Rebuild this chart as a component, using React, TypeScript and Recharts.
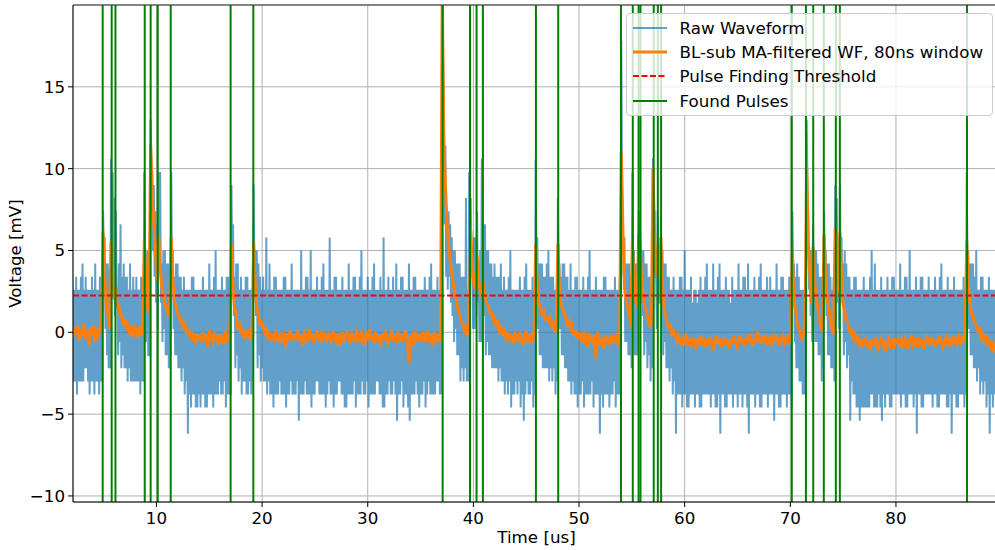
import React from 'react';
import { LineChart, Line, XAxis, YAxis, CartesianGrid, ReferenceLine } from 'recharts';

// raw samples every 0.075 us, filtered samples every 0.15 us, both from 2.1 us
const START_US = 2.1;
const RAW_STEP_US = 0.075;

// raw digitiser trace [mV], rows of 40 samples (3 us each)
const RAW_MV = [
  2.6, -3, 2.6, -3, 3.4, -3.8, 2.6, -3, 2.6, -3, 3.4, -3, 4.2, -3, 2.6, -2.2, 3.4, -2.2, 2.6, -3, 2.6, -3.8, 2.6, -3, 3.4, -3, 2.6, -3.8, 4.2, -3, 2.6, -3, 2.6, -3.8, 3.4, -3, 3.4, -3, 7.4, 5, // 2.1
  5.8, 0.2, 4.2, -1.4, 4.2, -2.2, 3.4, -2.2, 10.6, 5.8, 9.8, 3.4, 8.2, 1, 7.4, 2.6, 2.6, -1.4, 4.2, -0.6, 6.6, -2.2, 3.4, -1.4, 4.2, -2.2, 3.4, -2.2, 3.4, -3, 2.6, -2.2, 4.2, -3, 2.6, -3, 3.4, -3, 2.6, -3, // 5.1
  3.4, -3, 2.6, -3, 2.6, -3.8, 3.4, -3, 3.4, -3, 9.8, 5, -0.6, 4.2, 5, -1.4, -1.4, 5, 13, 9.8, 9.8, 5, 9, 3.4, 7.4, 1.8, 6.6, 0.2, 9.8, 4.2, 9.8, 1.8, 4.2, -0.6, 5, 0.2, 5, -1.4, 4.2, -1.4, // 8.1
  4.2, -2.2, 3.4, -1.4, 9.8, 3.4, 5, 0.2, 3.4, -1.4, 4.2, -1.4, 4.2, -2.2, 3.4, -2.2, 3.4, -3, 2.6, -2.2, 3.4, -3.8, 2.6, -3, 2.6, -6.2, 2.6, -3.8, 2.6, -4.6, 3.4, -3.8, 3.4, -3.8, 2.6, -4.6, 2.6, -4.6, 2.6, -3.8, // 11.1
  2.6, -4.6, 2.6, -3.8, 3.4, -3.8, 2.6, -4.6, 2.6, -4.6, 2.6, -3.8, 4.2, -3.8, 2.6, -3.8, 2.6, -4.6, 3.4, -3.8, 5, -3.8, 2.6, -3.8, 2.6, -3, 2.6, -3.8, 3.4, -3.8, 2.6, -3, 2.6, -4.6, 3.4, -3.8, 3.4, -3.8, 2.6, -3.8, // 14.1
  9, 3.4, 6.6, 1, 3.4, -2.2, 4.2, -1.4, 4.2, -3, 2.6, -2.2, 3.4, -3.8, 2.6, -3, 2.6, -3, 3.4, -3.8, 3.4, -3.8, 2.6, -3, 2.6, -3.8, 2.6, -3, 9, 3.4, 5, 1, 5, -2.2, 4.2, -1.4, 3.4, -3, 2.6, -2.2, // 17.1
  3.4, -3, 2.6, -3, 5.8, -3.8, 2.6, -3, 4.2, -3.8, 2.6, -3.8, 2.6, -4.6, 3.4, -3.8, 3.4, -3.8, 2.6, -3.8, 2.6, -3, 2.6, -3.8, 2.6, -3.8, 3.4, -3.8, 3.4, -4.6, 2.6, -3.8, 2.6, -3.8, 2.6, -3, 4.2, -3.8, 2.6, -3.8, // 20.1
  2.6, -3.8, 2.6, -3, 2.6, -5.4, 2.6, -3.8, 5, -3.8, 2.6, -3.8, 2.6, -3, 3.4, -3.8, 3.4, -3.8, 2.6, -3.8, 5, -4.6, 2.6, -3.8, 2.6, -3.8, 2.6, -3, 3.4, -3, 2.6, -3.8, 2.6, -3.8, 3.4, -3.8, 4.2, -3.8, 2.6, -4.6, // 23.1
  2.6, -3.8, 2.6, -3, 5.8, -3.8, 2.6, -3.8, 2.6, -4.6, 3.4, -3.8, 3.4, -3.8, 2.6, -3, 2.6, -3, 2.6, -3.8, 3.4, -3.8, 2.6, -4.6, 2.6, -4.6, 2.6, -3.8, 4.2, -3.8, 2.6, -3.8, 2.6, -3.8, 3.4, -3, 3.4, -4.6, 2.6, -3.8, // 26.1
  2.6, -3.8, 3.4, -3.8, 5, -3, 2.6, -3.8, 2.6, -3.8, 2.6, -3, 3.4, -4.6, 2.6, -3.8, 2.6, -3.8, 3.4, -3.8, 4.2, -3.8, 2.6, -3, 2.6, -3, 2.6, -3.8, 3.4, -3.8, 2.6, -4.6, 5.8, -4.6, 2.6, -3.8, 2.6, -3.8, 3.4, -3, // 29.1
  2.6, -3.8, 2.6, -3.8, 3.4, -3, 2.6, -3.8, 4.2, -5.4, 2.6, -3.8, 2.6, -3.8, 3.4, -3, 3.4, -4.6, 2.6, -3.8, 2.6, -3.8, 2.6, -4.6, 4.2, -5.4, 2.6, -3.8, 2.6, -3.8, 3.4, -3.8, 3.4, -3, 2.6, -3.8, 2.6, -4.6, 2.6, -3.8, // 32.1
  2.6, -3.8, 2.6, -3, 3.4, -4.6, 2.6, -3.8, 2.6, -3, 3.4, -3.8, 4.2, -3.8, 2.6, -3.8, 2.6, -3.8, 2.6, -3, 3.4, -3, 2.6, -3.8, 2.6, -3.8, 21.5, 17, 13.8, 6.6, 11.4, 3.4, 7.4, 2.6, 7.4, 3.4, 6.6, 1.8, 5.8, 1, // 35.1
  5, -0.6, 5, 0.2, 4.2, -1.4, 4.2, -1.4, 4.2, -3, 3.4, -2.2, 3.4, -3, 3.4, -2.2, 8.2, -3, 2.6, -3, 9.8, 4.2, 8.2, 3.4, 5, 0.2, 5.8, 0.2, 5.8, 1, 7.4, 1.8, 4.2, -0.6, 5, -0.6, 10.6, 2.6, 6.6, 1, // 38.1
  6.6, -1.4, 5, -0.6, 5, -1.4, 4.2, -1.4, 4.2, -2.2, 3.4, -2.2, 4.2, -2.2, 3.4, -2.2, 3.4, -3, 3.4, -2.2, 4.2, -3, 2.6, -3, 3.4, -3.8, 2.6, -3, 2.6, -3.8, 3.4, -3, 5, -4.6, 2.6, -3.8, 2.6, -3.8, 2.6, -3, // 41.1
  2.6, -3.8, 2.6, -3, 3.4, -4.6, 2.6, -3.8, 2.6, -5.4, 3.4, -3.8, 4.2, -3, 2.6, -3.8, 2.6, -3.8, 2.6, -3, 3.4, -4.6, 2.6, -3.8, 10.6, 3.4, 5.8, 0.2, 4.2, -1.4, 4.2, -1.4, 4.2, -2.2, 3.4, -2.2, 3.4, -2.2, 4.2, -2.2, // 44.1
  5, -3, 3.4, -2.2, 3.4, -3, 3.4, -2.2, 2.6, -3.8, 2.6, -3, 8.2, 2.6, 4.2, 0.2, 3.4, -1.4, 4.2, -1.4, 4.2, -2.2, 3.4, -2.2, 3.4, -3, 2.6, -3, 4.2, -3.8, 2.6, -3, 2.6, -3.8, 3.4, -3.8, 3.4, -4.6, 2.6, -3.8, // 47.1
  2.6, -3.8, 2.6, -3, 3.4, -4.6, 2.6, -3.8, 2.6, -3.8, 3.4, -3.8, 5, -3.8, 2.6, -3, 2.6, -4.6, 2.6, -3.8, 3.4, -3.8, 2.6, -3.8, 2.6, -6.2, 2.6, -3.8, 2.6, -4.6, 3.4, -3.8, 3.4, -3.8, 2.6, -3.8, 2.6, -4.6, 2.6, -3.8, // 50.1
  2.6, -3.8, 2.6, -3, 3.4, -4.6, 2.6, -3.8, 2.6, -3.8, 3.4, -3.8, 17.8, 9, 6.6, 3.4, 5.8, -0.6, 4.2, -0.6, 4.2, -1.4, 4.2, -1.4, 3.4, -2.2, 9.8, 4.2, 5, -1.4, 4.2, -1.4, 4.2, -1.4, 7.4, 3.4, 5.8, 1.8, 5, 1, // 53.1
  5, -1.4, 4.2, -0.6, 4.2, -2.2, 3.4, -1.4, 3.4, -3, 2.6, -2.2, 10.6, 5, 7.4, 3.4, 3.4, 0.2, 7.4, 1.8, 1.8, 4.2, 5.8, 1.8, 5, -1.4, 4.2, -0.6, 4.2, -2.2, 3.4, -2.2, 3.4, -3, 2.6, -2.2, 2.6, -3.8, 3.4, -3, // 56.1
  2.6, -6.2, 2.6, -3.8, 2.6, -3.8, 3.4, -3.8, 3.4, -4.6, 2.6, -3.8, 5, -3.8, 2.6, -4.6, 2.6, -4.6, 2.6, -3.8, 3.4, -3.8, 1.8, -3.8, 2.6, -4.6, 2.6, -3.8, 1.8, -3.8, 2.6, -4.6, 3.4, -4.6, 2.6, -3.8, 2.6, -3.8, 3.4, -3.8, // 59.1
  4.2, -3.8, 2.6, -3.8, 2.6, -4.6, 2.6, -3.8, 4.2, -3.8, 2.6, -4.6, 2.6, -4.6, 3.4, -3.8, 4.2, -6.2, 2.6, -3.8, 2.6, -3.8, 2.6, -4.6, 3.4, -4.6, 2.6, -3.8, 2.6, -3.8, 1.8, -3.8, 3.4, -4.6, 2.6, -3.8, 2.6, -3.8, 2.6, -4.6, // 62.1
  4.2, -3.8, 2.6, -3.8, 2.6, -4.6, 3.4, -3.8, 3.4, -3.8, 2.6, -4.6, 4.2, -6.2, 2.6, -3.8, 2.6, -3.8, 2.6, -3.8, 3.4, -4.6, 2.6, -3.8, 2.6, -3.8, 3.4, -4.6, 4.2, -4.6, 2.6, -3.8, 2.6, -3.8, 2.6, -3.8, 3.4, -4.6, 2.6, -3.8, // 65.1
  3.4, -3.8, 2.6, -3.8, 2.6, -5.4, 2.6, -3.8, 4.2, -3.8, 2.6, -4.6, 2.6, -4.6, 3.4, -3.8, 3.4, -3.8, 2.6, -3.8, 2.6, -4.6, 2.6, -3.8, 3.4, -3.8, 2.6, -4.6, 7.4, 2.6, 4.2, -0.6, 3.4, -2.2, 4.2, -2.2, 3.4, -3, 2.6, -3, // 68.1
  2.6, -3.8, 2.6, -3.8, 3.4, -3, 13, 9, 6.6, 2.6, 5, 1, 5, -0.6, 6.6, 2.6, 5, -0.6, 5, -0.6, 4.2, -1.4, 3.4, -1.4, 3.4, -3, 2.6, -2.2, 7.4, 3.4, 5, 1, 4.2, -1.4, 4.2, -1.4, 3.4, -2.2, 2.6, -2.2, // 71.1
  3.4, -3, 9, 4.2, 8.2, 1.8, 4.2, 0.2, 9, 3.4, 5.8, 1.8, 4.2, -1.4, 5, -0.6, 4.2, -2.2, 3.4, -1.4, 3.4, -5.4, 2.6, -3, 2.6, -3.8, 3.4, -3.8, 3.4, -4.6, 2.6, -4.6, 2.6, -5.4, 2.6, -4.6, 2.6, -4.6, 3.4, -4.6, // 74.1
  2.6, -4.6, 2.6, -4.6, 2.6, -4.6, 3.4, -3.8, 5, -3.8, 2.6, -4.6, 4.2, -4.6, 2.6, -4.6, 2.6, -3.8, 2.6, -4.6, 3.4, -5.4, 2.6, -3.8, 2.6, -4.6, 2.6, -3.8, 3.4, -3.8, 2.6, -4.6, 2.6, -4.6, 3.4, -3.8, 3.4, -3.8, 2.6, -3.8, // 77.1
  2.6, -3.8, 2.6, -3.8, 4.2, -4.6, 2.6, -3.8, 2.6, -3.8, 3.4, -4.6, 3.4, -4.6, 2.6, -3.8, 5, -3.8, 2.6, -3.8, 2.6, -4.6, 2.6, -3.8, 3.4, -6.2, 2.6, -3.8, 2.6, -3.8, 3.4, -4.6, 3.4, -4.6, 2.6, -3.8, 2.6, -3.8, 2.6, -3.8, // 80.1
  3.4, -3.8, 2.6, -3.8, 2.6, -4.6, 2.6, -3.8, 3.4, -3.8, 2.6, -4.6, 2.6, -4.6, 3.4, -3.8, 4.2, -3.8, 2.6, -3.8, 2.6, -3.8, 2.6, -4.6, 3.4, -4.6, 2.6, -3.8, 2.6, -6.2, 2.6, -3.8, 3.4, -3.8, 2.6, -4.6, 2.6, -4.6, 2.6, -3.8, // 83.1
  2.6, -3.8, 2.6, -3.8, 3.4, -4.6, 2.6, -3.8, 9.8, 3.4, 5, 0.2, 4.2, -1.4, 4.2, -1.4, 4.2, -2.2, 3.4, -2.2, 5, -3, 2.6, -2.2, 2.6, -3.8, 3.4, -3, 3.4, -3.8, 2.6, -3, 2.6, -4.6, 2.6, -3.8, 3.4, -6.2, 2.6, -3.8, // 86.1
  2.6, -4.6, 2.6, -3.8, 2.6, -3.8, 3.4, -3.8, 3.4, -4.6, 2.6, // 89.1
];

// baseline-subtracted moving-average trace [mV], every other raw sample time
const FILTERED_MV = [
  -0.3, 0.3, -0.1, 0.4, -0.5, 0.2, -0.2, 0.5, -0.4, 0.1, -0.8, 0.3, -0.2, 0.4, -0.6, 0.2, -0.3, 0.3, 0.1, 6.1,
  3.5, 1.5, 1.1, 0.2, 5.5, 3.6, 2.0, 2.7, 1.6, 1.6, 0.9, 1.2, 0.4, 0.8, 0.1, 0.6, -0.2, 0.4, -0.3, 0.3,
  0.2, -0.3, 0.4, -0.2, 0.1, 5.6, 3.0, 1.5, 1.2, 11.5, 8.5, 6.6, 5.1, 3.1, 6.0, 4.0, 2.7, 2.3, 1.7, 1.5,
  1.1, 1.3, 5.8, 3.2, 1.9, 1.6, 1.1, 1.0, 0.6, 0.7, 0.3, 0.4, -0.1, 0.2, -0.4, 0.0, -0.6, -0.1, -0.5, -0.2,
  -0.3, -0.6, 0.0, -0.5, -0.2, -0.9, 0.1, -0.4, -0.6, 0.0, -0.5, -0.2, -0.8, -0.1, -0.4, -0.7, 0.1, -0.5, -0.3, -0.2,
  5.4, 2.6, 1.5, 1.0, 0.3, 0.5, -0.1, 0.3, -0.4, 0.1, -0.3, 0.2, -0.5, 0.0, 5.5, 2.8, 1.5, 1.1, 0.5, 0.6,
  0.3, 0.0, 0.2, -0.4, 0.0, -0.5, -0.1, -0.6, 0.1, -0.3, -0.7, 0.0, -0.4, -0.2, -0.9, -0.1, -0.5, 0.1, -0.4, -0.3,
  -0.2, -0.5, 0.1, -0.4, -0.3, -0.8, 0.0, -0.2, -0.6, 0.2, -0.4, -0.1, -0.7, -0.3, 0.1, -0.5, -0.2, -0.6, 0.0, -0.4,
  -0.5, 0.0, -0.3, -0.7, 0.1, -0.2, -0.5, -0.1, -0.8, -0.3, 0.0, -0.6, -0.2, 0.1, -0.4, -0.7, -0.1, -0.3, -0.6, 0.0,
  -0.2, -0.6, 0.1, -0.4, -0.8, -0.1, -0.3, 0.2, -0.5, -0.2, -0.7, 0.0, -0.4, -0.3, -0.9, -0.1, -0.5, 0.1, -0.3, -0.6,
  -0.3, 0.1, -0.5, -0.2, -0.7, 0.0, -0.4, -0.1, -0.6, -0.3, 0.1, -0.5, -1.9, -0.4, -0.2, -0.8, 0.0, -0.3, -0.6, -0.1,
  -0.4, 0.0, -0.6, -0.2, 0.1, -0.5, -0.3, -0.8, 0.0, -0.4, -0.1, -0.6, -0.2, 21.0, 12.0, 9.0, 6.8, 5.3, 4.4, 3.6,
  3.0, 2.3, 1.9, 1.3, 1.1, 0.6, 0.5, 0.1, 0.3, -0.1, 0.2, 6.2, 4.0, 2.9, 2.6, 4.7, 3.2, 2.5, 2.2, 3.1,
  2.2, 1.8, 1.6, 1.2, 1.2, 0.8, 0.9, 0.4, 0.6, 0.1, 0.3, -0.2, 0.1, -0.3, 0.0, -0.6, -0.1, -0.4, -0.7, -0.1,
  -0.2, -0.6, 0.0, -0.4, -0.8, -0.2, 0.1, -0.5, -0.3, -0.7, 0.0, -0.4, 5.4, 2.8, 1.8, 1.5, 1.1, 1.3, 0.8, 0.9,
  0.7, 0.9, 0.4, 0.6, 0.0, 0.3, 5.4, 2.6, 1.7, 1.5, 1.1, 0.9, 0.5, 0.7, 0.2, 0.4, -0.2, 0.1, -0.4, -0.1,
  -0.2, -0.6, 0.0, -0.5, -0.3, -0.9, -0.1, -0.4, -0.7, -0.2, -1.6, 0.0, -0.8, -0.3, -0.6, -1.0, -0.2, -0.5, -0.8, -0.3,
  -0.5, -0.2, -0.7, -0.3, -0.6, -0.2, 11.0, 6.4, 2.7, 2.0, 1.5, 1.2, 0.3, 5.6, 2.9, 2.0, 1.6, 6.0, 5.0, 3.0,
  2.1, 1.5, 1.2, 0.8, 0.4, 0.5, 10.0, 6.0, 3.5, 5.0, 3.2, 5.8, 3.0, 1.4, 1.0, 0.6, 0.3, 0.4, -0.1, 0.1,
  -0.1, -0.5, -0.2, -0.6, -0.3, -0.8, -0.4, -0.1, -0.7, -0.5, -0.9, -0.3, -0.6, -1.0, -0.4, -0.7, -0.2, -0.8, -0.5, -0.9,
  -0.4, -0.8, -0.3, -0.6, -1.1, -0.5, -0.2, -0.7, -0.4, -0.9, -0.6, -0.3, -0.8, -0.5, -1.0, -0.4, -0.7, -0.2, -0.6, -0.9,
  -0.5, -0.2, -0.7, -0.4, -0.9, -0.3, -0.6, -0.1, -0.5, -0.8, -0.3, -0.6, 0.0, -0.4, -0.7, -0.2, -0.5, -0.3, -0.8, -0.4,
  -0.3, -0.7, -0.4, -0.1, -0.6, -0.3, -0.8, -0.4, -0.2, -0.7, -0.5, -0.3, -0.6, -0.2, 4.9, 2.0, 1.3, 0.6, 0.3, -0.1,
  -0.4, -0.1, 0.5, 10.1, 5.5, 3.6, 1.8, 5.2, 3.2, 2.1, 1.5, 0.8, 0.3, 0.0, 6.0, 3.4, 2.0, 1.5, 0.6, 0.2,
  -0.1, 6.4, 3.8, 2.4, 6.1, 3.6, 1.7, 1.3, 0.7, 0.6, 0.1, 0.2, -0.3, -0.1, -0.6, -0.3, -0.7, -0.4, -0.9, -0.5,
  -0.4, -0.9, -0.6, -1.1, -0.5, -0.8, -0.3, -0.7, -1.0, -0.6, -0.4, -0.9, -0.5, -1.2, -0.7, -0.4, -0.8, -0.6, -1.0, -0.5,
  -0.6, -0.3, -0.9, -0.5, -0.8, -0.4, -0.7, -1.0, -0.5, -0.2, -0.8, -0.6, -0.3, -0.9, -0.5, -0.7, -0.4, -1.0, -0.6, -0.3,
  -0.5, -0.8, -0.3, -0.6, -0.9, -0.4, -0.7, -0.2, -0.6, -0.9, -0.5, -0.3, -0.8, -0.5, -0.7, -0.2, -0.6, -0.4, -0.7, -0.3,
  -0.6, -0.3, -0.5, -0.2, 5.6, 3.0, 1.8, 1.2, 1.0, 0.6, 0.5, 0.1, 0.2, -0.3, -0.1, -0.5, -0.3, -0.8, -0.5, -0.9,
  -0.7, -1.1, -0.8, -1.2, -0.9, -1.0,
];

// found pulse times [us]
const PULSE_TIMES_US = [
  4.91, 5.76, 6.12, 8.89, 9.45, 10.12, 11.35, 17.02, 19.17,
  37.09, 39.68, 40.3, 40.9, 45.92, 48.03, 53.97, 55.09, 55.64, 55.82,
  57.07, 57.46, 57.77, 70.14, 71.48, 72.17, 73.17, 74.31, 74.69, 86.73,
];

const THRESHOLD_MV = 2.25;

const X_TICKS = [10, 20, 30, 40, 50, 60, 70, 80];
const Y_TICKS = [-10, -5, 0, 5, 10, 15];

const LEGEND_LABELS = [
  'Raw Waveform',
  'BL-sub MA-filtered WF, 80ns window',
  'Pulse Finding Threshold',
  'Found Pulses',
];

const FONT = '"DejaVu Sans", Verdana, sans-serif';
const FONT_SIZE = 16.7;

const chartData = RAW_MV.map((raw, i) => ({
  t: Number((START_US + i * RAW_STEP_US).toFixed(3)),
  raw,
  filtered: i % 2 === 0 ? FILTERED_MV[i / 2] : null,
}));

const fmtY = (v: number) => (v < 0 ? `\u2212${Math.abs(v)}` : `${v}`);

const legendHandles = [
  { stroke: '#1f77b4', opacity: 0.7, width: 2, dash: undefined },
  { stroke: '#ff7f0e', opacity: 1, width: 3, dash: undefined },
  { stroke: '#ff0000', opacity: 1, width: 2, dash: '6 2.5' },
  { stroke: '#008000', opacity: 1, width: 2, dash: undefined },
];

const PulseLegend = () => (
  <div
    style={{
      position: 'absolute',
      left: 625.5,
      top: 12.5,
      width: 367,
      height: 103,
      boxSizing: 'border-box',
      border: '1px solid #cccccc',
      borderRadius: 4,
      background: 'rgba(255,255,255,0.8)',
      fontFamily: FONT,
      fontSize: FONT_SIZE,
      color: '#000',
    }}
  >
    {LEGEND_LABELS.map((label, i) => {
      const h = legendHandles[i];
      const cy = 14 + i * 24.4;
      return (
        <div key={label} style={{ position: 'absolute', left: 0, top: cy - 12, height: 24, width: '100%' }}>
          <svg width={40} height={24} style={{ position: 'absolute', left: 5, top: 0 }}>
            <line
              x1={1}
              x2={35}
              y1={12}
              y2={12}
              stroke={h.stroke}
              strokeOpacity={h.opacity}
              strokeWidth={h.width}
              strokeDasharray={h.dash}
            />
          </svg>
          <span style={{ position: 'absolute', left: 53, top: 0, lineHeight: '24px', whiteSpace: 'nowrap' }}>
            {label}
          </span>
        </div>
      );
    })}
  </div>
);

const App = () => {
  const tickStyle = { fill: '#000', fontSize: FONT_SIZE, fontFamily: FONT };
  return (
    <div
      style={{
        position: 'absolute',
        left: 0,
        top: 0,
        width: 995,
        height: 550,
        overflow: 'hidden',
        background: '#fff',
        fontFamily: FONT,
      }}
    >
      <LineChart
        width={1002}
        height={550}
        data={chartData}
        margin={{ top: 5, right: 2, bottom: 0, left: 0 }}
      >
        <CartesianGrid stroke="#b0b0b0" strokeWidth={1} />
        <XAxis
          dataKey="t"
          type="number"
          domain={[2.1, 89.85]}
          allowDataOverflow
          ticks={X_TICKS}
          interval={0}
          height={48}
          tick={tickStyle}
          tickSize={5}
          tickMargin={5}
          tickLine={{ stroke: '#000' }}
          axisLine={{ stroke: '#000' }}
          label={{
            value: 'Time [us]',
            position: 'insideBottom',
            offset: 7,
            style: { fill: '#000', fontSize: FONT_SIZE, fontFamily: FONT },
          }}
        />
        <YAxis
          type="number"
          domain={[-10.37, 20]}
          allowDataOverflow
          ticks={Y_TICKS}
          interval={0}
          width={73}
          tick={tickStyle}
          tickFormatter={fmtY}
          tickSize={5}
          tickMargin={3}
          tickLine={{ stroke: '#000' }}
          axisLine={{ stroke: '#000' }}
          label={{
            value: 'Voltage [mV]',
            angle: -90,
            position: 'insideLeft',
            offset: 15,
            style: { fill: '#000', fontSize: FONT_SIZE, fontFamily: FONT, textAnchor: 'middle' },
          }}
        />
        <Line
          dataKey="raw"
          type="linear"
          stroke="#1f77b4"
          strokeOpacity={0.7}
          strokeWidth={2}
          dot={false}
          activeDot={false}
          isAnimationActive={false}
        />
        <Line
          dataKey="filtered"
          type="linear"
          stroke="#ff7f0e"
          strokeWidth={3}
          connectNulls
          dot={false}
          activeDot={false}
          isAnimationActive={false}
        />
        <ReferenceLine y={THRESHOLD_MV} stroke="#ff0000" strokeWidth={2} strokeDasharray="6 2.5" />
        {PULSE_TIMES_US.map((t) => (
          <ReferenceLine key={t} x={t} stroke="#008000" strokeWidth={2} />
        ))}
        <ReferenceLine y={20} stroke="#333" strokeWidth={1} />
      </LineChart>
      <PulseLegend />
    </div>
  );
};

export default App;
